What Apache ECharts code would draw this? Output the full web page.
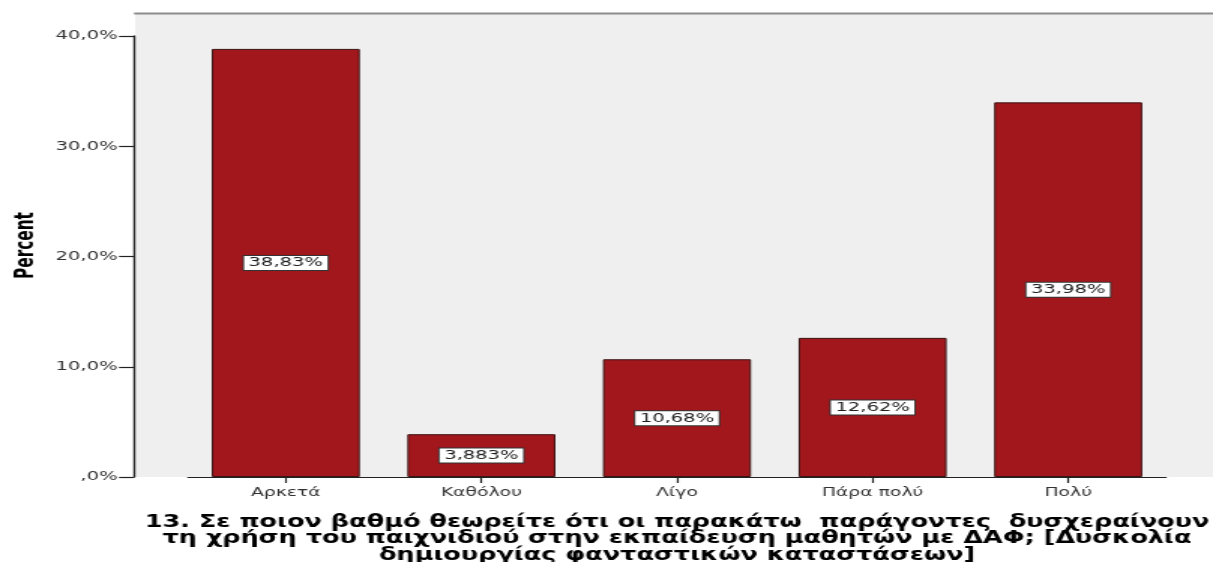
<!DOCTYPE html>
<html>
<head>
<meta charset="utf-8">
<script src="https://cdn.jsdelivr.net/npm/echarts@6/dist/echarts.min.js"></script>
<style>
  html, body { margin: 0; padding: 0; background: #ffffff; overflow: hidden; }
  #wrap { width: 1213px; height: 562px; overflow: hidden; }
  /* the chart is laid out on a narrower canvas and stretched horizontally,
     which gives the wide SPSS-style lettering */
  #chart { width: 808px; height: 562px; transform-origin: 0 0; }
</style>
</head>
<body>
<div id="wrap"><div id="chart"></div></div>
<script>
const categories = ['Αρκετά', 'Καθόλου', 'Λίγο', 'Πάρα πολύ', 'Πολύ'];
const percents = [38.83, 3.883, 10.68, 12.62, 33.98];
const yTickValues = [0, 10, 20, 30, 40];
const xTitle = '13. Σε ποιον βαθμό θεωρείτε ότι οι παρακάτω  παράγοντες  δυσχεραίνουν\n' +
               'τη χρήση του παιχνιδιού στην εκπαίδευση μαθητών με ΔΑΦ; [Δυσκολία\n' +
               'δημιουργίας φανταστικών καταστάσεων]';
const yTitle = 'Percent';

const PAGE_W = 1213;
const CANVAS_W = 808;
const S = PAGE_W / CANVAS_W;           // horizontal stretch factor
const ux = px => px / S;               // page x -> canvas x

const el = document.getElementById('chart');
el.style.transform = 'scaleX(' + S + ')';

const frameLeft = ux(134);             // left edge of the shaded plot frame
const gridLeft = ux(188);
const gridRight = CANVAS_W - ux(1166);
const gridTop = 36;
const gridBottom = 85;
const frameTop = 13;
const frameBottom = 562 - gridBottom;

const fmtPct = v => v === 0 ? ',0%' : v.toFixed(1).replace('.', ',') + '%';
const fmtBar = v => v.toPrecision(4).replace('.', ',') + '%';

const chart = echarts.init(el, null, { renderer: 'canvas' });
chart.setOption({
  animation: false,
  backgroundColor: '#ffffff',
  graphic: [
    {
      type: 'rect', z: -10, silent: true,
      shape: { x: frameLeft + 0.8, y: frameTop, width: CANVAS_W - frameLeft + 2, height: frameBottom - frameTop },
      style: { fill: '#efefef' }
    },
    {
      type: 'line', z: -5, silent: true,
      shape: { x1: frameLeft, y1: frameTop + 0.5, x2: CANVAS_W + 2, y2: frameTop + 0.5 },
      style: { stroke: '#8c8c8c', lineWidth: 2 }
    }
  ],
  grid: {
    left: gridLeft, right: gridRight, top: gridTop, bottom: gridBottom,
    containLabel: false, outerBoundsMode: 'none'
  },
  xAxis: {
    type: 'category',
    data: categories,
    z: 10,
    boundaryGap: true,
    axisLine: { show: true, lineStyle: { color: '#222', width: 1.2 } },
    axisTick: { show: true, alignWithLabel: true, length: 6, lineStyle: { color: '#222', width: 1.2 } },
    axisLabel: { color: '#333', fontFamily: 'DejaVu Sans', fontSize: 12.5, margin: 9 },
    name: xTitle,
    nameLocation: 'middle',
    nameGap: 37,
    nameTextStyle: {
      color: '#000', fontFamily: 'DejaVu Sans', fontWeight: 'bold',
      fontSize: 17, lineHeight: 16.5, align: 'center'
    }
  },
  yAxis: {
    type: 'value',
    min: 0, max: 40, interval: 10,
    z: 10,
    offset: gridLeft - frameLeft,
    splitLine: { show: false },
    axisLine: { show: true, lineStyle: { color: '#222', width: 1.4 } },
    axisTick: { show: true, length: 10, lineStyle: { color: '#222', width: 1.2 } },
    axisLabel: {
      color: '#333', fontFamily: 'DejaVu Sans', fontSize: 13, margin: 11,
      formatter: v => yTickValues.includes(v) ? fmtPct(v) : ''
    },
    name: yTitle,
    nameLocation: 'middle',
    nameRotate: 90,
    nameGap: 62,
    nameTextStyle: {
      color: '#000', fontFamily: "'Liberation Sans Narrow', 'DejaVu Sans Condensed', 'Liberation Sans'",
      fontWeight: 'bold', fontSize: 17,
      // centred on the whole shaded frame rather than on the 0–40 span
      padding: [0, 0, 0, 22]
    }
  },
  series: [{
    type: 'bar',
    data: percents,
    barCategoryGap: '24.3%',
    itemStyle: { color: '#a2171c', borderColor: '#3a1414', borderWidth: 1 },
    label: {
      show: true,
      position: 'inside',
      formatter: p => fmtBar(p.value),
      color: '#222',
      fontFamily: 'DejaVu Sans',
      fontSize: 13,
      backgroundColor: '#ffffff',
      borderColor: '#333',
      borderWidth: 1,
      padding: [1, 3, 0, 3]
    }
  }]
});
</script>
</body>
</html>
